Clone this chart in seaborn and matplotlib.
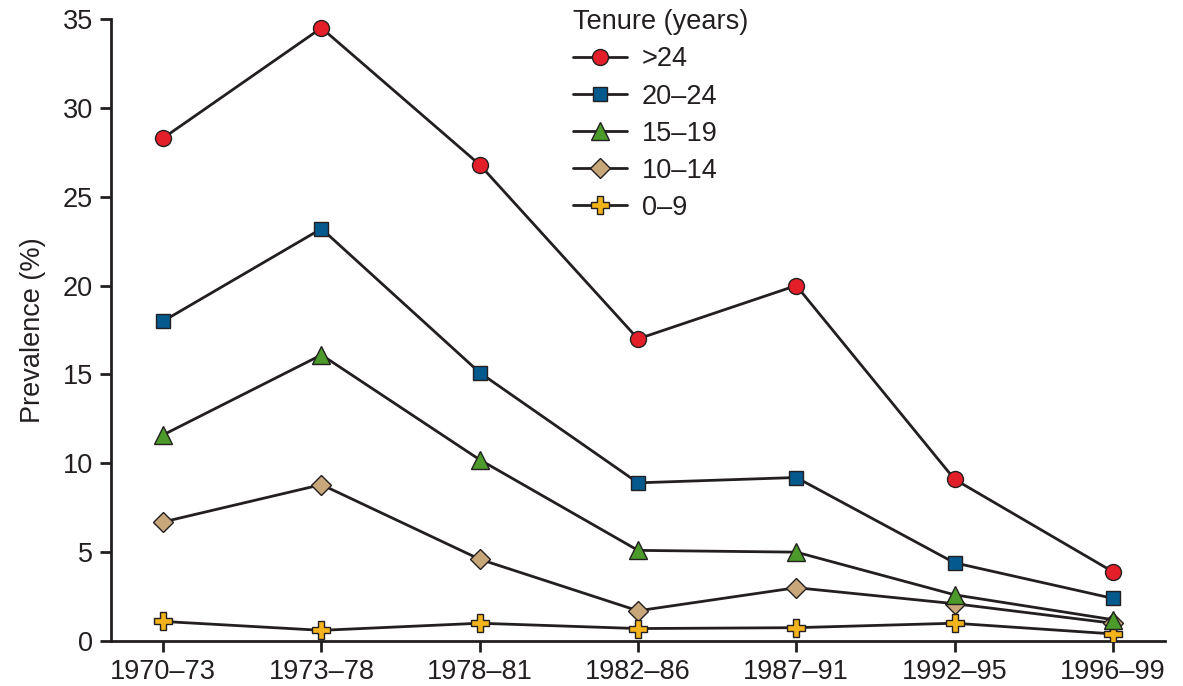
import matplotlib
matplotlib.use("Agg")
import pandas as pd
import seaborn as sns
import matplotlib.pyplot as plt

periods = ["1970–73", "1973–78", "1978–81", "1982–86", "1987–91", "1992–95", "1996–99"]
tenure_groups = [">24", "20–24", "15–19", "10–14", "0–9"]

over_24 = [28.3, 34.5, 26.8, 17.0, 20.0, 9.1, 3.9]
from_20_to_24 = [18.0, 23.2, 15.1, 8.9, 9.2, 4.4, 2.4]
from_15_to_19 = [11.6, 16.1, 10.2, 5.1, 5.0, 2.6, 1.2]
from_10_to_14 = [6.7, 8.8, 4.6, 1.7, 3.0, 2.1, 1.0]
from_0_to_9 = [1.1, 0.6, 1.0, 0.7, 0.75, 1.0, 0.4]

series = [over_24, from_20_to_24, from_15_to_19, from_10_to_14, from_0_to_9]
face_colors = ["#e3202a", "#045a8d", "#4c9a2a", "#c8a77a", "#f2b31b"]
markers = ["o", "s", "^", "D", "P"]
marker_sizes = [11.5, 10, 13.5, 10, 13.5]
zorders = [5, 5, 5, 3, 4]

ink = "#231f20"

sns.set_theme(style="ticks")
plt.rcParams["font.family"] = ["Liberation Sans", "DejaVu Sans"]
plt.rcParams["text.color"] = ink
plt.rcParams["axes.labelcolor"] = ink
plt.rcParams["xtick.color"] = ink
plt.rcParams["ytick.color"] = ink

fig = plt.figure(figsize=(11.83, 6.86), dpi=100)
ax = fig.add_axes([0.0938, 0.0656, 0.891, 0.9067])

for name, vals, fc, mk, ms, z in zip(tenure_groups, series, face_colors, markers, marker_sizes, zorders):
    df = pd.DataFrame({"period": periods, "prevalence": vals})
    sns.lineplot(data=df, x="period", y="prevalence", ax=ax, sort=False,
                 color=ink, linewidth=2.0, marker=mk, markersize=ms,
                 markerfacecolor=fc, markeredgecolor=ink, markeredgewidth=1.0,
                 label=name, zorder=z)

ax.set_xlim(-0.33, 6.33)
ax.set_ylim(0, 35)
ax.set_yticks(range(0, 36, 5))
ax.set_xlabel("")
ax.set_ylabel("Prevalence (%)", fontsize=19.5, labelpad=12)
ax.tick_params(axis="both", labelsize=19.5, length=8, width=2.0, direction="out", pad=5)
for side in ["left", "bottom"]:
    ax.spines[side].set_linewidth(2.0)
    ax.spines[side].set_color(ink)
sns.despine(ax=ax)

leg = ax.legend(title="Tenure (years)", loc="upper left", bbox_to_anchor=(0.428, 1.033),
                frameon=False, fontsize=19.5, title_fontsize=19.5,
                handlelength=2.0, handletextpad=0.55, labelspacing=0.41,
                alignment="left", borderaxespad=0)

fig.savefig("out.png", dpi=100)
